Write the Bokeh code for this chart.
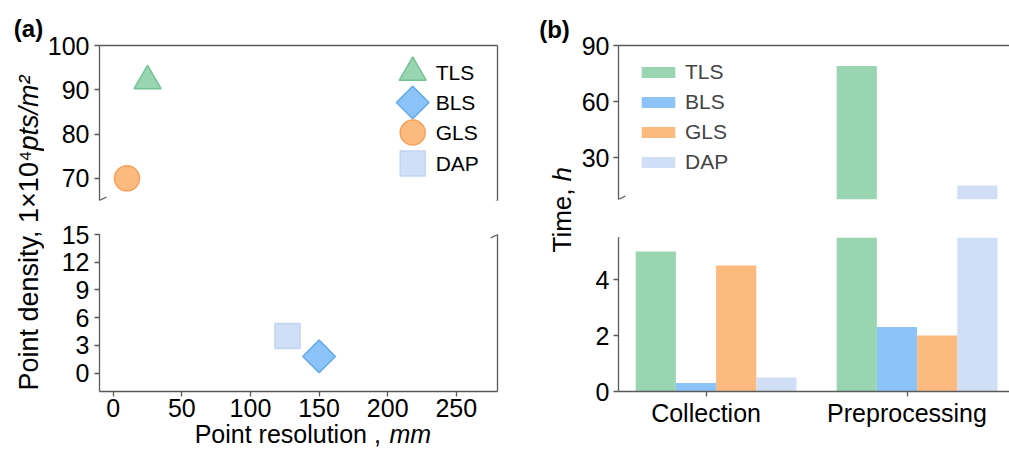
import numpy as np
from bokeh.plotting import figure
from bokeh.models import (Range1d, LinearAxis, FixedTicker, Legend, LegendItem, Label,
                          Arrow, ColumnDataSource, CDSView, BooleanFilter)
from bokeh.layouts import row, column
from bokeh.core.properties import value
from bokeh.embed import file_html
from bokeh.resources import INLINE

# ---------------- data ----------------
scanners = ["TLS", "BLS", "GLS", "DAP"]
point_resolution_mm = [25, 150, 10, 127]
point_density = [92.0, 1.8, 70.0, 4.0]

stages = ["Collection", "Preprocessing"]
time_collection_h = [5.0, 0.3, 4.5, 0.5]
time_preprocessing_h = [79.0, 2.3, 2.0, 15.0]

ticks_density_top = [70, 80, 90, 100]
ticks_density_bottom = [0, 3, 6, 9, 12, 15]
ticks_resolution = [0, 50, 100, 150, 200, 250]
ticks_time_top = [30, 60, 90]
ticks_time_bottom = [0, 2, 4]

# ---------------- styles ----------------
fill_colors = ["#99D5B1", "#8CC4FA", "#FDBA7E", "#D0DEF6"]
line_colors = ["#74C295", "#5FA9EE", "#F5A15A", "#C3D4F2"]
marker_types = ["triangle", "square", "circle", "square"]
marker_angles = [0.0, np.pi / 4, 0.0, 0.0]
marker_sizes = [27, 23, 25, 25]
bar_offsets = [-0.25, -0.05, 0.15, 0.35]
bar_width = 0.2
FONT = "Liberation Sans"
SPINE = "#5a5a5a"
TICK_FS = "25px"

# page geometry (screen px; the page starts at 0,0) ----------------------
W, H = 1009, 449
SPLIT = 217                      # boundary between upper and lower figures
A_X0, A_X1 = 44, 508             # panel (a) figure column
B_X0, B_X1 = 578, 1009           # panel (b) figure column
A_L, A_R = 98, 497
A_TOP = (45, 200)
A_BOT = (234, 391)
A_BOT_END = 427                  # bottom of the lower (a) figure
XLAB_H = 32                      # x-label strip, overlapping the axis border a little
B_L, B_R = 616, 1009
B_TOP = (45, 199)
B_BOT = (237, 391)

xr_a = (-10, 280)
yr_a_top = (65, 100)
yr_a_bot = (-2, 15)
xr_b = (-0.4356, 1.0 + (B_R - 906) / 202.0)
yr_b_top = (7.5, 90)
yr_b_bot = (0, 5.5)


def px2x(px, L, R, rng):
    return rng[0] + (px - L) / (R - L) * (rng[1] - rng[0])


def px2y(py, T, B, rng):
    return rng[0] + (B - py) / (B - T) * (rng[1] - rng[0])


def base_fig(width, height, xr, yr, left, right, top, bottom):
    p = figure(width=width, height=height,
               x_range=Range1d(*xr), y_range=Range1d(*yr),
               x_axis_location=None, y_axis_location=None, title=None,
               output_backend="svg", toolbar_location=None,
               min_border_left=left, min_border_right=right,
               min_border_top=top, min_border_bottom=bottom)
    p.outline_line_color = None
    p.grid.grid_line_color = None
    return p


def add_axis(p, side, ticks, overrides=None, standoff=5):
    ax = LinearAxis(ticker=FixedTicker(ticks=ticks),
                    axis_line_color=SPINE, axis_line_width=1.3,
                    major_tick_line_color=SPINE, major_tick_line_width=1.3,
                    major_tick_in=0, major_tick_out=5,
                    minor_tick_line_color=None,
                    major_label_text_font=FONT, major_label_text_font_size=TICK_FS,
                    major_label_text_color="black", major_label_standoff=standoff)
    if overrides:
        ax.major_label_overrides = overrides
    p.add_layout(ax, side)


def add_spine(p, side):
    ax = LinearAxis(ticker=FixedTicker(ticks=[]),
                    axis_line_color=SPINE, axis_line_width=1.3,
                    major_tick_line_color=None, minor_tick_line_color=None,
                    major_tick_in=0, major_tick_out=0, major_label_standoff=0,
                    major_label_text_font_size="0px")
    p.add_layout(ax, side)


def add_break(p, x, y, xs, ys):
    # small "/" mark centred on a frame corner; xs, ys = data units per px
    p.add_layout(Arrow(x_start=x - 7 * xs, y_start=y - 3.5 * ys,
                       x_end=x + 7 * xs, y_end=y + 3.5 * ys,
                       start=None, end=None, line_color=SPINE, line_width=1.3))


def label_fig(width, height, **kw):
    p = figure(width=width, height=height,
               x_range=Range1d(0, width), y_range=Range1d(0, height),
               x_axis_location=None, y_axis_location=None, title=None,
               output_backend="svg", toolbar_location=None, min_border=0, **kw)
    p.outline_line_color = None
    p.grid.grid_line_color = None
    return p


def txt(p, x, y, text, size, style="normal", align="left", baseline="middle", angle=0.0):
    p.add_layout(Label(x=x, y=y, text=text, angle=angle, text_font=FONT,
                       text_font_size=size, text_font_style=style,
                       text_align=align, text_baseline=baseline, text_color="black"))


# ---------------- panel (a) ----------------
A_W = A_X1 - A_X0
a_top = base_fig(A_W, SPLIT, xr_a, yr_a_top,
                 A_L - A_X0, A_X1 - A_R, A_TOP[0], SPLIT - A_TOP[1])
a_bot = base_fig(A_W, A_BOT_END - SPLIT, xr_a, yr_a_bot,
                 A_L - A_X0, A_X1 - A_R, A_BOT[0] - SPLIT, A_BOT_END - A_BOT[1])

pts = ColumnDataSource(dict(x=point_resolution_mm, y=point_density, name=scanners,
                            fill=fill_colors, line=line_colors, marker=marker_types,
                            angle=marker_angles, size=marker_sizes))
for p in (a_top, a_bot):
    p.scatter(x="x", y="y", source=pts, marker="marker", size="size", angle="angle",
              fill_color="fill", line_color="line", line_width=1.5)

add_axis(a_top, "left", ticks_density_top)
add_spine(a_top, "right")
add_spine(a_top, "above")
add_axis(a_bot, "left", ticks_density_bottom)
add_spine(a_bot, "right")
add_axis(a_bot, "below", ticks_resolution, standoff=2)

# legend of panel (a), drawn with the same marker styles
leg_rows_px = [72, 102, 132, 163]
leg_a = ColumnDataSource(dict(
    x=[px2x(412, A_L, A_R, xr_a)] * 4,
    y=[px2y(py, *A_TOP, yr_a_top) for py in leg_rows_px],
    tx=[px2x(435, A_L, A_R, xr_a)] * 4,
    label=scanners, fill=fill_colors, line=line_colors, marker=marker_types,
    angle=marker_angles, size=marker_sizes))
a_top.scatter(x="x", y="y", source=leg_a, marker="marker", size="size", angle="angle",
              fill_color="fill", line_color="line", line_width=1.5)
a_top.text(x="tx", y="y", text="label", source=leg_a, text_font=value(FONT),
           text_font_size="21px", text_baseline="middle", text_align="left",
           text_color="black")

xs_a = (xr_a[1] - xr_a[0]) / (A_R - A_L)
ys_at = (yr_a_top[1] - yr_a_top[0]) / (A_TOP[1] - A_TOP[0])
ys_ab = (yr_a_bot[1] - yr_a_bot[0]) / (A_BOT[1] - A_BOT[0])
for xb in xr_a:
    add_break(a_top, xb, yr_a_top[0], xs_a, ys_at)
    add_break(a_bot, xb, yr_a_bot[1], xs_a, ys_ab)

# x label of panel (a): a transparent strip pulled up over the axis border
overlap = A_BOT_END + XLAB_H - H
a_xlab = label_fig(A_W, XLAB_H, margin=(-overlap, 0, 0, 0))
a_xlab.border_fill_color = None
a_xlab.background_fill_color = None
xj = 372 - A_X0
XLAB_MID = 433.5
txt(a_xlab, xj, H - XLAB_MID, "Point resolution ,", "25px", align="right")
txt(a_xlab, xj + 10, H - XLAB_MID, "mm", "25px", style="italic", align="left")

# left strip: panel letter and y label
labA = label_fig(A_X0, H)
txt(labA, 28, H - 28, "(a)", "24px", style="bold", align="center")
yj = 150
txt(labA, 28, H - yj, "Point density, 1×10⁴", "27px", align="right", angle=np.pi / 2)
txt(labA, 28, H - yj, "pts/m²", "27px", style="italic", align="left", angle=np.pi / 2)

# ---------------- panel (b) ----------------
B_W = B_X1 - B_X0
b_top = base_fig(B_W, SPLIT, xr_b, yr_b_top,
                 B_L - B_X0, B_X1 - B_R, B_TOP[0], SPLIT - B_TOP[1])
b_bot = base_fig(B_W, H - SPLIT, xr_b, yr_b_bot,
                 B_L - B_X0, B_X1 - B_R, B_BOT[0] - SPLIT, H - B_BOT[1])

times = [time_collection_h, time_preprocessing_h]
legend_renderers = []
for j, name in enumerate(scanners):
    tops = [times[i][j] for i in range(len(stages))]
    src = ColumnDataSource(dict(x=[i + bar_offsets[j] for i in range(len(stages))], top=tops))
    # upper axes: only the bars that reach above the break
    upper = CDSView(filter=BooleanFilter([t > yr_b_top[0] for t in tops]))
    b_top.vbar(x="x", top="top", bottom=0, width=bar_width, source=src, view=upper,
               fill_color=fill_colors[j], line_color=None)
    b_bot.vbar(x="x", top="top", bottom=0, width=bar_width, source=src,
               fill_color=fill_colors[j], line_color=None)
    # a hidden copy that only feeds the legend key
    key = b_top.vbar(x="x", top="top", bottom=0, width=bar_width, source=src,
                     fill_color=fill_colors[j], line_color=None, visible=False)
    legend_renderers.append(key)

add_axis(b_top, "left", ticks_time_top, standoff=4)
add_spine(b_top, "above")
add_axis(b_bot, "left", ticks_time_bottom, standoff=4)
add_axis(b_bot, "below", list(range(len(stages))),
         overrides={i: s for i, s in enumerate(stages)}, standoff=2)

xs_b = (xr_b[1] - xr_b[0]) / (B_R - B_L)
add_break(b_top, xr_b[0], yr_b_top[0], xs_b, (yr_b_top[1] - yr_b_top[0]) / (B_TOP[1] - B_TOP[0]))
add_break(b_bot, xr_b[0], yr_b_bot[1], xs_b, (yr_b_bot[1] - yr_b_bot[0]) / (B_BOT[1] - B_BOT[0]))

legend_b = Legend(items=[LegendItem(label=n, renderers=[r]) for n, r in zip(scanners, legend_renderers)],
                  location=(19, 25), orientation="vertical",
                  glyph_width=42, glyph_height=14, label_standoff=6, spacing=6,
                  padding=0, margin=0, label_height=24,
                  label_text_font=FONT, label_text_font_size="21px",
                  inactive_fill_alpha=0.0,
                  border_line_color=None, background_fill_alpha=0)
b_top.add_layout(legend_b)

labB = label_fig(B_X0 - A_X1, H)
txt(labB, 554 - A_X1, H - 29, "(b)", "24px", style="bold", align="center")
tj = 188
txt(labB, 561 - A_X1, H - tj, "Time,", "26px", align="right", angle=np.pi / 2)
txt(labB, 561 - A_X1, H - tj + 7, "h", "26px", style="italic", align="left", angle=np.pi / 2)

layout = row(labA, column(a_top, a_bot, a_xlab), labB, column(b_top, b_bot))

open("out.html", "w").write(file_html(layout, INLINE))
